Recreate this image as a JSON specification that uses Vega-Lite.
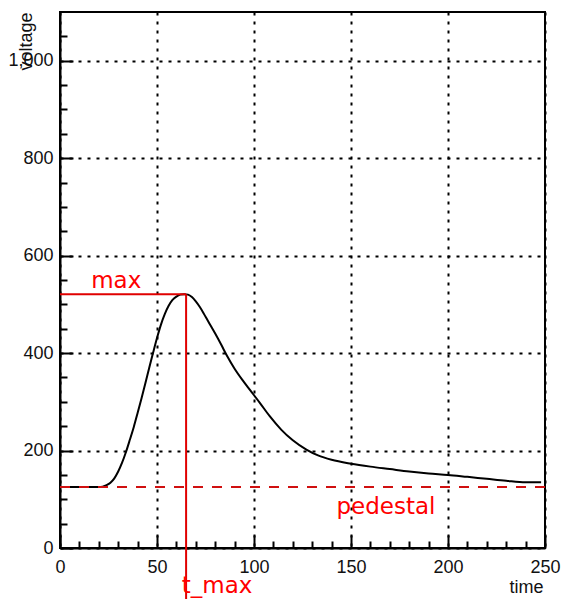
{
  "$schema": "https://vega.github.io/schema/vega-lite/v6.json",
  "width": 485,
  "height": 536,
  "autosize": {"type": "none"},
  "padding": {"left": 60, "top": 12, "right": 17, "bottom": 51},
  "background": "white",
  "config": {
    "view": {"stroke": "black", "strokeWidth": 2},
    "font": "Liberation Sans",
    "axis": {
      "labelFont": "Liberation Sans",
      "labelFontSize": 18,
      "labelColor": "#111",
      "labelFlush": false,
      "labelOverlap": false,
      "titleFont": "Liberation Sans",
      "titleFontSize": 18,
      "titleFontWeight": "normal",
      "titleColor": "#111",
      "domainColor": "black",
      "domainWidth": 2,
      "tickColor": "black",
      "tickWidth": 2
    }
  },
  "datasets": {
    "signal": [
      {"time": 0, "voltage": 125}, {"time": 5, "voltage": 125}, {"time": 10, "voltage": 125},
      {"time": 15, "voltage": 125}, {"time": 20, "voltage": 125}, {"time": 22, "voltage": 126},
      {"time": 24, "voltage": 129}, {"time": 26, "voltage": 134}, {"time": 28, "voltage": 143},
      {"time": 30, "voltage": 157}, {"time": 32, "voltage": 175}, {"time": 34, "voltage": 197},
      {"time": 36, "voltage": 222}, {"time": 38, "voltage": 248}, {"time": 40, "voltage": 277},
      {"time": 42, "voltage": 307}, {"time": 44, "voltage": 338}, {"time": 46, "voltage": 370},
      {"time": 48, "voltage": 401}, {"time": 50, "voltage": 431}, {"time": 52, "voltage": 458},
      {"time": 54, "voltage": 480}, {"time": 56, "voltage": 497}, {"time": 58, "voltage": 509},
      {"time": 60, "voltage": 516}, {"time": 62, "voltage": 520}, {"time": 64, "voltage": 521},
      {"time": 66, "voltage": 520}, {"time": 68, "voltage": 515}, {"time": 70, "voltage": 506},
      {"time": 72, "voltage": 495}, {"time": 74, "voltage": 482}, {"time": 76, "voltage": 468},
      {"time": 78, "voltage": 454}, {"time": 80, "voltage": 440}, {"time": 83, "voltage": 418},
      {"time": 86, "voltage": 395}, {"time": 90, "voltage": 368}, {"time": 94, "voltage": 345},
      {"time": 98, "voltage": 324}, {"time": 103, "voltage": 298}, {"time": 108, "voltage": 271},
      {"time": 114, "voltage": 243}, {"time": 120, "voltage": 221}, {"time": 127, "voltage": 202},
      {"time": 133, "voltage": 190}, {"time": 140, "voltage": 181}, {"time": 150, "voltage": 173},
      {"time": 160, "voltage": 167}, {"time": 170, "voltage": 162}, {"time": 180, "voltage": 157},
      {"time": 190, "voltage": 153}, {"time": 200, "voltage": 150}, {"time": 210, "voltage": 146},
      {"time": 220, "voltage": 142}, {"time": 230, "voltage": 138}, {"time": 240, "voltage": 135},
      {"time": 248, "voltage": 135}
    ],
    "solidLines": [
      {"x": 0, "x2": 65, "y": 521, "y2": 521},
      {"x": 65, "x2": 65, "y": -105, "y2": 521}
    ],
    "pedestal": [
      {"x": 0, "x2": 250, "y": 125}
    ],
    "labels": [
      {"label": "max", "x": 29, "y": 533},
      {"label": "t_max", "x": 81, "y": -92},
      {"label": "pedestal", "x": 168, "y": 70}
    ]
  },
  "resolve": {"axis": {"x": "independent", "y": "independent"}},
  "layer": [
    {
      "data": {"name": "signal"},
      "mark": {"type": "line", "opacity": 0},
      "encoding": {
        "x": {
          "field": "time", "type": "quantitative",
          "scale": {"domain": [0, 250], "nice": false, "zero": false},
          "axis": {
            "orient": "bottom", "values": [10, 20, 30, 40, 60, 70, 80, 90, 110, 120, 130, 140, 160, 170, 180, 190, 210, 220, 230, 240],
            "labels": false, "grid": false, "domain": false, "tickSize": -7, "title": null
          }
        },
        "y": {
          "field": "voltage", "type": "quantitative",
          "scale": {"domain": [0, 1100], "nice": false, "zero": false},
          "axis": {
            "orient": "left", "values": [50, 100, 150, 250, 300, 350, 450, 500, 550, 650, 700, 750, 850, 900, 950, 1050],
            "labels": false, "grid": false, "domain": false, "tickSize": -7, "title": null
          }
        }
      }
    },
    {
      "data": {"name": "signal"},
      "mark": {"type": "line", "color": "black", "strokeWidth": 2, "interpolate": "monotone"},
      "encoding": {
        "x": {
          "field": "time", "type": "quantitative",
          "scale": {"domain": [0, 250], "nice": false, "zero": false},
          "axis": {
            "orient": "bottom", "values": [0, 50, 100, 150, 200, 250],
            "grid": true, "gridColor": "black", "gridWidth": 2, "gridDash": [3, 6],
            "tickSize": -13, "labelPadding": 23, "labelBaseline": "top",
            "title": "time", "titleAnchor": "end", "titleAlign": "right", "titleBaseline": "alphabetic",
            "titleX": 483, "titleY": 44
          }
        },
        "y": {
          "field": "voltage", "type": "quantitative",
          "scale": {"domain": [0, 1100], "nice": false, "zero": false},
          "axis": {
            "orient": "left", "values": [0, 200, 400, 600, 800, 1000],
            "grid": true, "gridColor": "black", "gridWidth": 2, "gridDash": [3, 6],
            "tickSize": -13, "labelPadding": 20,
            "title": "voltage", "titleAngle": 270, "titleAlign": "right", "titleBaseline": "alphabetic",
            "titleX": -29, "titleY": 0
          }
        }
      }
    },
    {
      "data": {"name": "solidLines"},
      "mark": {"type": "rule", "color": "#e00000", "strokeWidth": 2},
      "encoding": {
        "x": {"field": "x", "type": "quantitative", "scale": {"domain": [0, 250], "nice": false, "zero": false}, "axis": null},
        "x2": {"field": "x2"},
        "y": {"field": "y", "type": "quantitative", "scale": {"domain": [0, 1100], "nice": false, "zero": false}, "axis": null},
        "y2": {"field": "y2"}
      }
    },
    {
      "data": {"name": "pedestal"},
      "mark": {"type": "rule", "color": "#d01010", "strokeWidth": 2, "strokeDash": [10, 9]},
      "encoding": {
        "x": {"field": "x", "type": "quantitative", "scale": {"domain": [0, 250], "nice": false, "zero": false}, "axis": null},
        "x2": {"field": "x2"},
        "y": {"field": "y", "type": "quantitative", "scale": {"domain": [0, 1100], "nice": false, "zero": false}, "axis": null}
      }
    },
    {
      "data": {"name": "labels"},
      "mark": {"type": "text", "color": "#ff0000", "font": "DejaVu Sans", "fontSize": 23, "align": "center", "baseline": "alphabetic"},
      "encoding": {
        "x": {"field": "x", "type": "quantitative", "scale": {"domain": [0, 250], "nice": false, "zero": false}, "axis": null},
        "y": {"field": "y", "type": "quantitative", "scale": {"domain": [0, 1100], "nice": false, "zero": false}, "axis": null},
        "text": {"field": "label"}
      }
    }
  ]
}
